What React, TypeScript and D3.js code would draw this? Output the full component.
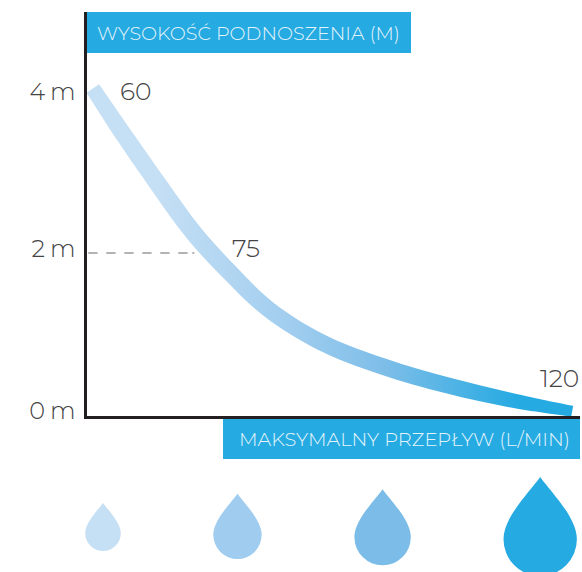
import React from "react";
import * as d3 from "d3";

const flowLabels = [60, 75, 120];
const heightTicks = [4, 2, 0];
const curveFlow = [59.98, 64.1, 68.4, 72.6, 76.9, 81.9, 88.5, 96.1, 104.5, 112.75, 119.9];
const curveHeight = [4, 3.4, 2.8, 2.24, 1.78, 1.315, 0.913, 0.62, 0.38, 0.195, 0.07];
const curveWidth = [15, 17, 17.5, 17.5, 17, 16.5, 16.5, 16.5, 16, 14.5, 11];
const dropRadius = [17.8, 24.2, 28.2, 36.7];
const dropColors = ["#c5dff4", "#a0cdef", "#7bbde8", "#25aae2"];
const dropFlows = [61.25, 78.06, 96.2, 115.9];
const dropBottoms = [551, 559, 565.3, 576];
const gradFlows = [68, 85, 97, 113];
const gradColors = ["#c5dff4", "#a0cdef", "#7bbde8", "#25aae2"];
const dashPattern = [9.3, 8.7, 9.3, 8.7, 9.3, 8.7, 9.3, 8.7, 9.3, 8.7, 9.3, 4.7, 2, 20];

const x = d3.scaleLinear().domain([60, 120]).range([93, 573]);
const y = d3.scaleLinear().domain([0, 4]).range([417, 88.5]);
const font = "Montserrat, Inter, 'Open Sans', sans-serif";

type P = { f: number; h: number; w: number; nx: number; ny: number };
const pts: P[] = curveFlow.map((f, i) => {
  const a = Math.max(0, i - 1);
  const b = Math.min(curveFlow.length - 1, i + 1);
  const dx = x(curveFlow[b]) - x(curveFlow[a]);
  const dy = y(curveHeight[b]) - y(curveHeight[a]);
  const l = Math.hypot(dx, dy);
  return { f, h: curveHeight[i], w: curveWidth[i], nx: -dy / l, ny: dx / l };
});
const ribbon = d3
  .area<P>()
  .x0((p) => x(p.f) - (p.nx * p.w) / 2)
  .y0((p) => y(p.h) - (p.ny * p.w) / 2)
  .x1((p) => x(p.f) + (p.nx * p.w) / 2)
  .y1((p) => y(p.h) + (p.ny * p.w) / 2)
  .curve(d3.curveCatmullRom);

function dropPath(r: number) {
  const t = 2.7 * r;
  return `M0 ${-t} C ${-r * 0.3} ${-t + r * 0.42} ${-r} ${-r - r * 0.6} ${-r} ${-r} A ${r} ${r} 0 1 0 ${r} ${-r} C ${r} ${-r - r * 0.6} ${r * 0.3} ${-t + r * 0.42} 0 ${-t} Z`;
}

export default function App() {
  return (
    <svg width={582} height={572} style={{ position: "absolute", left: 0, top: 0 }} fontFamily={font}>
      <defs>
        <linearGradient id="g" gradientUnits="userSpaceOnUse" x1={x(gradFlows[0])} y1={0} x2={x(gradFlows[3])} y2={0}>
          {gradFlows.map((f, i) => (
            <stop key={f} offset={(f - gradFlows[0]) / (gradFlows[3] - gradFlows[0])} stopColor={gradColors[i]} />
          ))}
        </linearGradient>
      </defs>
      <line x1={88.3} x2={196} y1={y(2) + 0.2} y2={y(2) + 0.2} stroke="#9a9a9a" strokeWidth={1.4} strokeDasharray={dashPattern.join(" ")} />
      <path d={ribbon(pts) ?? ""} fill="url(#g)" />
      <rect x={87} y={12} width={324} height={41} fill="#25aae2" />
      <text x={97} y={40} fontSize={18} fill="#e4f4fb" fontWeight={300} textLength={303} lengthAdjust="spacingAndGlyphs">WYSOKOŚĆ PODNOSZENIA (M)</text>
      <rect x={223} y={419} width={357} height={40} fill="#25aae2" />
      <text x={239} y={446} fontSize={18} fill="#e4f4fb" fontWeight={300} textLength={331} lengthAdjust="spacingAndGlyphs">MAKSYMALNY PRZEPŁYW (L/MIN)</text>
      <line x1={85.5} x2={85.5} y1={12} y2={419} stroke="#231f20" strokeWidth={3} />
      <line x1={84} x2={580} y1={417.5} y2={417.5} stroke="#231f20" strokeWidth={3} />
      {heightTicks.map((t, i) => (
        <text key={t} x={75} y={[100, 257, 419][i]} textAnchor="end" fontSize={24} fontWeight={300} fill="#444" letterSpacing={-0.6}>{t} m</text>
      ))}
      {flowLabels.map((f, i) => (
        <text key={f} x={[120, 232, 540][i]} y={[100, 257, 387][i]} fontSize={25} fontWeight={300} fill="#444">{f}</text>
      ))}
      {dropRadius.map((r, i) => (
        <path key={i} d={dropPath(r)} fill={dropColors[i]} transform={`translate(${x(dropFlows[i])},${dropBottoms[i]})`} />
      ))}
    </svg>
  );
}
